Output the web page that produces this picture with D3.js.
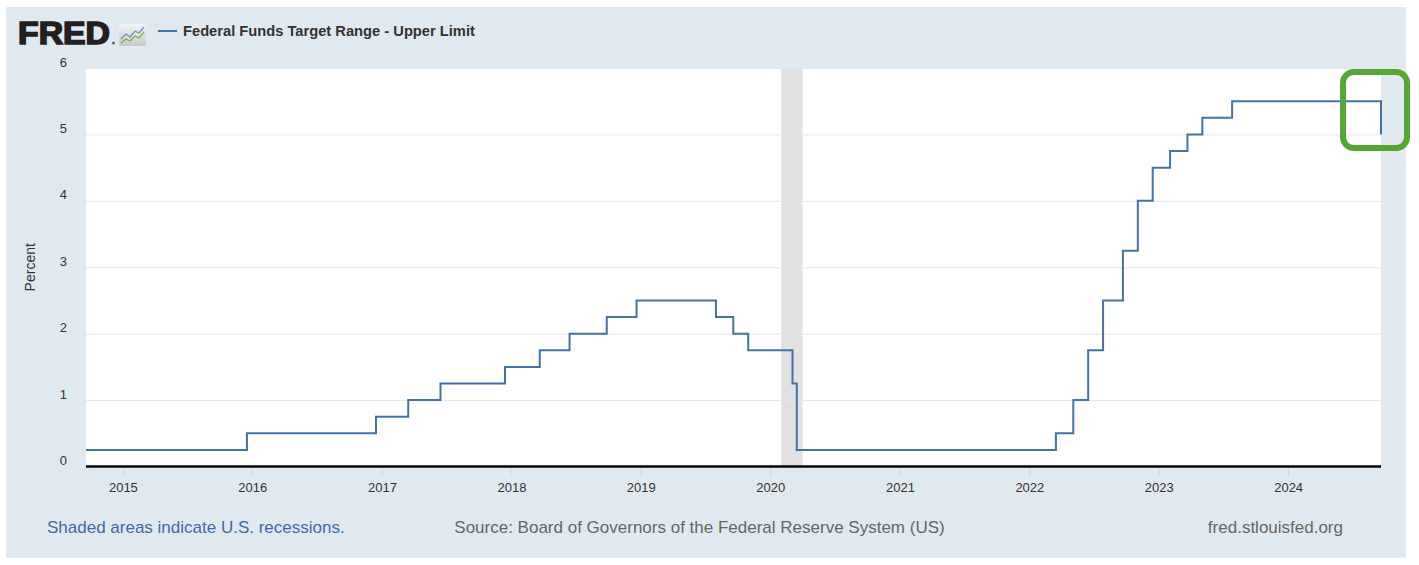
<!DOCTYPE html>
<html>
<head>
<meta charset="utf-8">
<script src="https://cdn.jsdelivr.net/npm/d3@7"></script>
<style>
  html, body { margin: 0; padding: 0; background: #fff; }
  svg { display: block; font-family: "Liberation Sans", Arial, Helvetica, sans-serif; }
</style>
</head>
<body>
<div id="chart"></div>
<script>
// Federal Funds Target Range - Upper Limit (change dates and new levels)
const changeDates = [
  "2014-09-19", "2015-12-17", "2016-12-15", "2017-03-16", "2017-06-15",
  "2017-12-14", "2018-03-22", "2018-06-14", "2018-09-27", "2018-12-20",
  "2019-08-01", "2019-09-19", "2019-10-31", "2020-03-04", "2020-03-16",
  "2022-03-17", "2022-05-05", "2022-06-16", "2022-07-28", "2022-09-22",
  "2022-11-03", "2022-12-15", "2023-02-02", "2023-03-23", "2023-05-04",
  "2023-07-27", "2024-09-19"
];
const upperLimit = [
  0.25, 0.50, 0.75, 1.00, 1.25,
  1.50, 1.75, 2.00, 2.25, 2.50,
  2.25, 2.00, 1.75, 1.25, 0.25,
  0.50, 1.00, 1.75, 2.50, 3.25,
  4.00, 4.50, 4.75, 5.00, 5.25,
  5.50, 5.00
];
const recessionStart = ["2020-02-01"];
const recessionEnd = ["2020-04-01"];
const yTicks = [0, 1, 2, 3, 4, 5, 6];
const xDomain = ["2014-09-19", "2024-09-19"];

const parse = d3.timeParse("%Y-%m-%d");
const data = changeDates.map((d, i) => ({ date: parse(d), value: upperLimit[i] }));
const recessions = recessionStart.map((d, i) => ({ start: parse(d), end: parse(recessionEnd[i]) }));

const width = 1419, height = 565;
const plot = { left: 86, right: 1381, top: 68, bottom: 466.5 };

const svg = d3.select("#chart").append("svg")
  .attr("width", width)
  .attr("height", height);

// background panel
svg.append("rect")
  .attr("x", 6).attr("y", 7)
  .attr("width", 1400).attr("height", 551)
  .attr("fill", "#e1e9f0");

// header: FRED logo + legend
const head = svg.append("g");
head.append("text")
  .attr("x", 18).attr("y", 44)
  .attr("font-size", 31)
  .attr("font-weight", "bold")
  .attr("textLength", 92)
  .attr("lengthAdjust", "spacingAndGlyphs")
  .attr("fill", "#231f20")
  .attr("stroke", "#231f20")
  .attr("stroke-width", 1.6)
  .style("font-family", "'Liberation Sans', Arial, sans-serif")
  .text("FRED");
head.append("circle").attr("cx", 113.5).attr("cy", 43).attr("r", 1.5).attr("fill", "#666");
const icon = head.append("g").attr("transform", "translate(119,24)");
const grad = svg.append("defs").append("linearGradient")
  .attr("id", "icg").attr("x1", 0).attr("y1", 0).attr("x2", 0).attr("y2", 1);
grad.append("stop").attr("offset", "0%").attr("stop-color", "#f4f4f4");
grad.append("stop").attr("offset", "100%").attr("stop-color", "#c9c9c9");
icon.append("rect").attr("width", 27).attr("height", 22).attr("rx", 2).attr("fill", "url(#icg)");
icon.append("path").attr("d", "M2,15 L7,10 L11,13 L16,7 L20,9 L25,3")
  .attr("fill", "none").attr("stroke", "#6a93c8").attr("stroke-width", 1.3);
icon.append("path").attr("d", "M2,19 L7,15 L11,17 L16,12 L20,14 L25,8")
  .attr("fill", "none").attr("stroke", "#7ab34a").attr("stroke-width", 1.3);

head.append("line")
  .attr("x1", 158).attr("x2", 177).attr("y1", 31).attr("y2", 31)
  .attr("stroke", "#4572a7").attr("stroke-width", 2);
head.append("text")
  .attr("x", 183).attr("y", 36)
  .attr("font-size", 14.7)
  .attr("font-weight", "bold")
  .attr("fill", "#333")
  .text("Federal Funds Target Range - Upper Limit");

// scales
const x = d3.scaleTime()
  .domain(xDomain.map(parse))
  .range([plot.left, plot.right]);
const y = d3.scaleLinear()
  .domain([0, 6])
  .range([plot.bottom, plot.top]);

// plot area
svg.append("rect")
  .attr("x", plot.left).attr("y", plot.top)
  .attr("width", plot.right - plot.left)
  .attr("height", plot.bottom - plot.top)
  .attr("fill", "#fff");

// recession shading
svg.selectAll(".recession")
  .data(recessions)
  .enter().append("rect")
  .attr("class", "recession")
  .attr("x", d => x(d.start))
  .attr("y", plot.top)
  .attr("width", d => x(d.end) - x(d.start))
  .attr("height", plot.bottom - plot.top)
  .attr("fill", "#e1e1e1");

// gridlines + y labels
const yAxis = svg.append("g")
  .attr("transform", `translate(${plot.left},0)`)
  .call(d3.axisLeft(y).tickValues(yTicks).tickSize(-(plot.right - plot.left)).tickFormat(d3.format("d")));
yAxis.select(".domain").remove();
yAxis.selectAll(".tick line")
  .attr("stroke", d => d === 0 ? "none" : "#e6e6e6")
  .attr("stroke-width", 1);
yAxis.selectAll(".tick text")
  .attr("x", -19)
  .attr("dy", "-0.15em")
  .attr("font-size", 13)
  .attr("fill", "#333")
  .style("font-family", "'Liberation Sans', Arial, sans-serif");

svg.append("text")
  .attr("transform", `translate(35,${(plot.top + plot.bottom) / 2}) rotate(-90)`)
  .attr("text-anchor", "middle")
  .attr("font-size", 14)
  .attr("fill", "#333")
  .text("Percent");

// series line
const line = d3.line()
  .x(d => x(d.date))
  .y(d => y(d.value))
  .curve(d3.curveStepAfter);
svg.append("path")
  .datum(data)
  .attr("d", line)
  .attr("fill", "none")
  .attr("stroke", "#4572a7")
  .attr("stroke-width", 2);

// x axis
const years = d3.timeYear.range(parse("2015-01-01"), parse("2025-01-01"));
const xAxis = svg.append("g")
  .attr("transform", `translate(0,${plot.bottom})`)
  .call(d3.axisBottom(x).tickValues(years).tickFormat(d3.timeFormat("%Y")).tickSize(10).tickPadding(6));
xAxis.select(".domain").remove();
xAxis.selectAll(".tick line").attr("stroke", "#ccd6eb");
xAxis.selectAll(".tick text")
  .attr("font-size", 13)
  .attr("fill", "#333")
  .style("font-family", "'Liberation Sans', Arial, sans-serif");
svg.append("line")
  .attr("x1", plot.left).attr("x2", plot.right)
  .attr("y1", plot.bottom).attr("y2", plot.bottom)
  .attr("stroke", "#000").attr("stroke-width", 2.5);

// footer
svg.append("text")
  .attr("x", 47).attr("y", 533)
  .attr("font-size", 17)
  .attr("fill", "#3e6aa8")
  .text("Shaded areas indicate U.S. recessions.");
svg.append("text")
  .attr("x", 699.5).attr("y", 533)
  .attr("text-anchor", "middle")
  .attr("font-size", 17)
  .attr("fill", "#666")
  .text("Source: Board of Governors of the Federal Reserve System (US)");
svg.append("text")
  .attr("x", 1343).attr("y", 533)
  .attr("text-anchor", "end")
  .attr("font-size", 17)
  .attr("fill", "#666")
  .text("fred.stlouisfed.org");

// highlight box around the latest change
svg.append("rect")
  .attr("x", 1343).attr("y", 72)
  .attr("width", 64).attr("height", 76)
  .attr("rx", 11)
  .attr("fill", "none")
  .attr("stroke", "#55a632")
  .attr("stroke-width", 6);
</script>
</body>
</html>
